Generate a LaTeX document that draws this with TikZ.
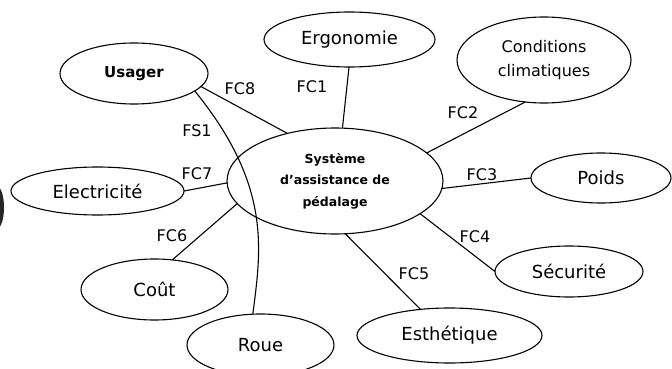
\documentclass[tikz,border=0pt]{standalone}
\usepackage{fontspec}
\setmainfont{DejaVu Sans}
\usetikzlibrary{shapes.geometric}
\begin{document}
\begin{tikzpicture}[x=1pt,y=-1pt,
  bub/.style={draw, ellipse, inner sep=0pt, outer sep=0pt, line width=1.1pt, font=\fontsize{18}{21}\selectfont},
  lab/.style={inner sep=0pt, font=\fontsize{16}{19}\selectfont},
  link/.style={line width=1.1pt}]
\useasboundingbox (0,0) rectangle (672,369);
\begin{scope}
\clip (0,0) rectangle (672,369);
\fill[black!85] (-3,207.5) ellipse [x radius=7, y radius=21];
\end{scope}
\node[bub, minimum width=216pt, minimum height=106pt, font=\bfseries\fontsize{12.5}{21.5}\selectfont, align=center] (sys) at (335,181) {Système\\d’assistance de\\pédalage};
\node[bub, minimum width=171pt, minimum height=55pt] (ergo) at (349.5,39.5) {Ergonomie};
\node[bub, minimum width=174pt, minimum height=86pt, align=center, font=\fontsize{16}{24}\selectfont] (clim) at (544,60) {Conditions\\climatiques};
\node[bub, minimum width=140pt, minimum height=50pt] (poids) at (601,178) {Poids};
\node[bub, minimum width=148pt, minimum height=51pt] (secu) at (569,271.5) {Sécurité};
\node[bub, minimum width=185pt, minimum height=55pt] (esth) at (449.5,335.5) {Esthétique};
\node[bub, minimum width=147pt, minimum height=62pt] (roue) at (260.5,345) {Roue};
\node[bub, minimum width=147pt, minimum height=61pt] (cout) at (154.5,289.5) {Coût};
\node[bub, minimum width=173pt, minimum height=48pt] (elec) at (97.5,191) {Electricité};
\node[bub, minimum width=148pt, minimum height=61pt, font=\bfseries\fontsize{15}{18}\selectfont] (usager) at (134,73.5) {Usager};
\draw[link] (sys.82.5) -- (ergo.-91);
\draw[link] (sys.17) -- (clim.246.6);
\draw[link] (sys.-4.8) -- (poids.180);
\draw[link] (sys.-21.8) -- (secu.180);
\draw[link] (sys.-79) -- (esth.138.5);
\draw[link] (sys.193.2) -- (cout.59.4);
\draw[link] (sys.181.6) -- (elec.0);
\draw[link] (sys.135) -- (usager.-11.2);
\draw[link] (usager.-16.9) .. controls (272,186) and (261,250) .. (roue.104);
\node[lab] (l8) at (240,89) {FC8};
\node[lab] (l1) at (312,87) {FC1};
\node[lab] (l2) at (463,113) {FC2};
\node[lab] (ls1) at (197,131) {FS1};
\node[lab] (l7) at (197,174) {FC7};
\node[lab] (l3) at (482,175) {FC3};
\node[lab] (l6) at (172,236) {FC6};
\node[lab] (l4) at (475,237) {FC4};
\node[lab] (l5) at (414,274) {FC5};
\end{tikzpicture}
\end{document}
